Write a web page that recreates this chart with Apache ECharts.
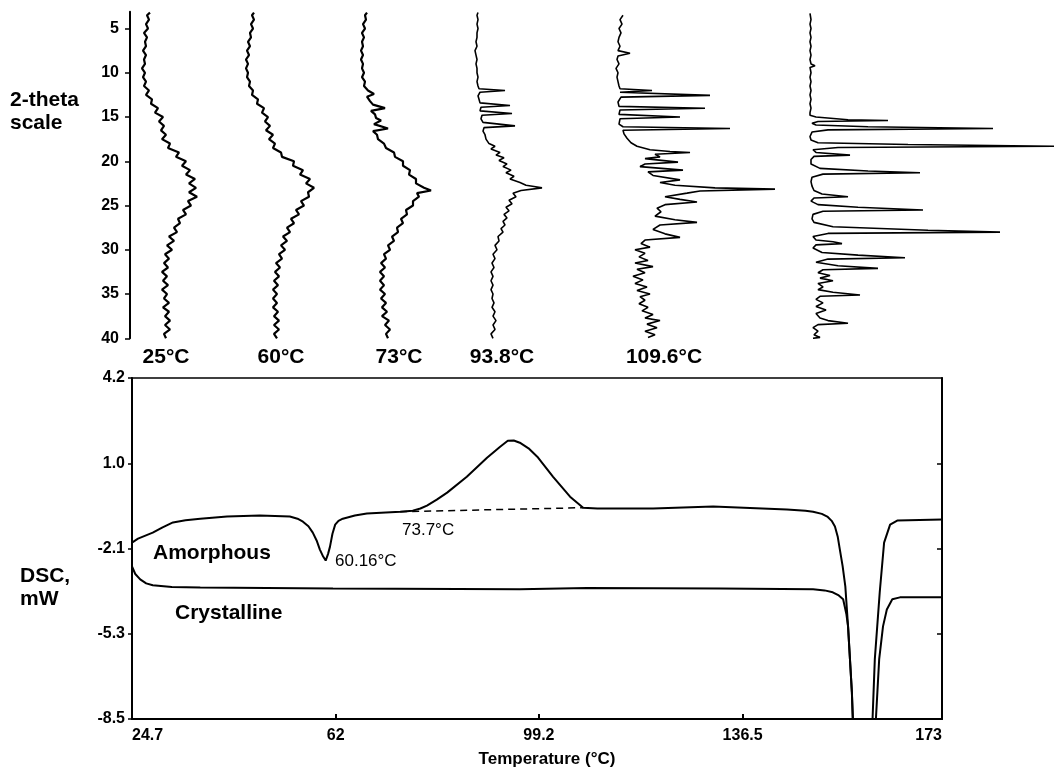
<!DOCTYPE html>
<html>
<head>
<meta charset="utf-8">
<script src="https://cdn.jsdelivr.net/npm/echarts@6/dist/echarts.min.js"></script>
<style>
  html, body { margin: 0; padding: 0; background: #fff; }
  #chart { width: 1054px; height: 769px; }
</style>
</head>
<body>
<div id="chart"></div>
<script>
// XRD patterns: [2-theta, intensity] (intensity in arbitrary units)
const xrd25 = [[3.2,7],[3.5,4],[4,6],[4.5,3],[5,5],[5.5,1],[6,4],[6.5,2],[7,3],[7.5,0],[8,3],[8.5,1],[9,2],[9.5,-1],[10,2],[10.5,0],[11,3],[11.5,1],[12,6],[12.5,3],[13,9],[13.5,8],[14,15],[14.5,12],[15,20],[15.5,16],[16,21],[16.5,18],[17,23],[17.5,19],[18,27],[18.5,25],[19,36],[19.5,33],[20,43],[20.5,39],[21,47],[21.5,43],[22,52],[22.5,46],[23,53],[23.5,46],[24,54],[24.5,45],[25,48],[25.5,40],[26,43],[26.5,35],[27,37],[27.5,31],[28,34],[28.5,26],[29,31],[29.5,24],[30,29],[30.5,22],[31,26],[31.5,21],[32,25],[32.5,19],[33,24],[33.5,20],[34,25],[34.5,19],[35,24],[35.5,21],[36,26],[36.5,20],[37,26],[37.5,22],[38,27],[38.5,22],[39,27],[39.5,21],[40,23]];
const xrd60 = [[3.2,8],[3.5,6],[4,8],[4.5,5],[5,7],[5.5,4],[6,5],[6.5,2],[7,4],[7.5,1],[8,3],[8.5,0],[9,2],[9.5,0],[10,2],[10.5,1],[11,4],[11.5,3],[12,7],[12.5,6],[13,12],[13.5,11],[14,18],[14.5,16],[15,22],[15.5,19],[16,24],[16.5,20],[17,27],[17.5,23],[18,29],[18.5,27],[19,35],[19.5,36],[20,48],[20.5,47],[21,57],[21.5,54],[22,64],[22.5,60],[23,68],[23.5,62],[24,63],[24.5,55],[25,58],[25.5,50],[26,53],[26.5,45],[27,48],[27.5,41],[28,44],[28.5,37],[29,41],[29.5,35],[30,39],[30.5,33],[31,36],[31.5,30],[32,34],[32.5,29],[33,33],[33.5,28],[34,32],[34.5,27],[35,31],[35.5,27],[36,31],[36.5,27],[37,32],[37.5,28],[38,33],[38.5,28],[39,33],[39.5,28],[40,31]];
const xrd73 = [[3.2,7],[3.5,5],[4,6],[4.5,3],[5,5],[5.5,2],[6,4],[6.5,2],[7,3],[7.5,1],[8,3],[8.5,1],[9,3],[9.5,2],[10,4],[10.5,2],[11,5],[11.5,4],[12,8],[12.4,14],[12.7,7],[13.2,10],[13.6,13],[14,25],[14.3,11],[14.7,15],[15.1,16],[15.4,21],[15.8,14],[16.3,28],[16.6,13],[17,17],[17.5,18],[18,24],[18.5,26],[19,34],[19.5,35],[20,43],[20.5,43],[21,50],[21.5,49],[22,56],[22.5,56],[23,64],[23.3,71],[23.6,57],[24,59],[24.5,53],[25,53],[25.5,46],[26,47],[26.5,41],[27,43],[27.5,37],[28,38],[28.5,32],[29,34],[29.5,28],[30,30],[30.5,24],[31,26],[31.5,21],[32,25],[32.5,20],[33,24],[33.5,20],[34,24],[34.5,20],[35,25],[35.5,21],[36,26],[36.5,22],[37,27],[37.5,22],[38,29],[38.5,25],[39,30],[39.5,26],[40,28]];
const xrd938 = [[3.2,2],[3.5,1],[4,2],[4.5,1],[5,2],[5.5,1],[6,1],[6.5,0],[7,1],[7.5,-1],[8,0],[8.5,1],[9,0],[9.5,1],[10,1],[10.5,2],[11,1],[11.5,2],[11.8,3],[12,29],[12.2,4],[12.6,2],[13,3],[13.4,4],[13.7,34],[13.9,5],[14.3,4],[14.6,36],[14.8,6],[15.2,5],[15.6,7],[16,39],[16.2,8],[16.6,7],[17,9],[17.5,10],[18,13],[18.3,19],[18.6,15],[19,24],[19.3,20],[19.6,28],[19.9,23],[20.3,31],[20.6,27],[21,35],[21.3,30],[21.7,38],[22,34],[22.4,44],[22.7,50],[23,66],[23.3,45],[23.6,37],[24,40],[24.4,33],[24.8,36],[25.2,30],[25.6,33],[26,28],[26.4,31],[26.8,27],[27.2,29],[27.6,25],[28,27],[28.5,22],[29,23],[29.5,19],[30,21],[30.5,17],[31,19],[31.5,16],[32,18],[32.5,15],[33,17],[33.5,15],[34,17],[34.5,15],[35,17],[35.5,16],[36,18],[36.5,16],[37,19],[37.5,17],[38,20],[38.5,17],[39,19],[39.5,15],[40,17]];
const xrd1096 = [[3.5,8],[4,5],[4.5,7],[5,4],[5.5,6],[6,4],[6.5,3],[7,5],[7.5,3],[7.8,15],[8.1,3],[8.5,2],[9,4],[9.5,1],[10,3],[10.5,2],[11,3],[11.5,4],[11.8,5],[12,37],[12.2,5],[12.4,4],[12.55,95],[12.75,6],[13.3,3],[13.8,4],[14,90],[14.2,5],[14.7,4],[15,65],[15.2,5],[15.8,4],[16.1,8],[16.3,115],[16.5,8],[16.9,9],[17.4,12],[17.9,16],[18.3,22],[18.7,35],[18.9,55],[19,75],[19.2,40],[19.5,45],[19.7,30],[20.1,63],[20.3,30],[20.6,25],[21,68],[21.2,33],[21.6,38],[22.1,65],[22.4,45],[22.7,60],[23,100],[23.15,160],[23.35,85],[23.6,72],[24,50],[24.3,65],[24.6,82],[24.9,50],[25.3,42],[25.7,46],[26.2,40],[26.6,60],[26.9,82],[27.2,45],[27.7,38],[28.2,50],[28.6,65],[28.9,30],[29.3,26],[29.7,35],[30,20],[30.4,30],[30.8,24],[31.2,33],[31.5,20],[31.9,38],[32.2,22],[32.6,30],[33,18],[33.4,28],[33.8,20],[34.2,32],[34.6,22],[35,35],[35.3,25],[35.7,30],[36.1,24],[36.5,33],[36.9,27],[37.3,38],[37.7,30],[38,45],[38.4,32],[38.8,42],[39.2,30],[39.6,40],[39.9,33]];
const xrdCryst = [[3.3,2],[3.5,2],[4,3],[4.5,2],[5,3],[5.5,2],[6,3],[6.5,2],[7,3],[7.5,2],[8,3],[8.5,2],[9,3],[9.2,7],[9.4,2],[10,3],[10.5,2],[11,3],[11.5,2],[12,3],[12.5,2],[13,3],[13.5,2],[14,3],[14.5,2],[14.8,2],[15,8],[15.3,40],[15.4,80],[15.5,10],[15.7,4],[15.9,8],[16.1,60],[16.3,185],[16.45,20],[16.7,4],[17.2,2],[17.6,3],[17.9,10],[18.1,100],[18.3,246],[18.45,30],[18.7,5],[19,8],[19.3,42],[19.45,6],[19.8,3],[20.3,3],[20.8,12],[21.1,60],[21.3,112],[21.45,15],[21.8,4],[22.3,3],[22.8,4],[23.3,6],[23.7,14],[24,40],[24.15,6],[24.5,3],[24.9,10],[25.2,50],[25.5,115],[25.65,15],[26,5],[26.5,4],[26.9,6],[27.4,25],[27.8,120],[28,192],[28.15,20],[28.5,5],[28.9,8],[29.1,25],[29.3,34],[29.45,8],[29.8,5],[30.3,14],[30.6,50],[30.9,97],[31.05,20],[31.4,8],[31.8,30],[32.1,70],[32.25,15],[32.6,10],[32.9,22],[33.2,12],[33.5,25],[33.8,10],[34.2,15],[34.5,10],[34.8,25],[35.1,52],[35.25,12],[35.6,8],[36,15],[36.4,8],[36.8,18],[37.2,8],[37.7,12],[38,20],[38.3,40],[38.45,10],[38.8,5],[39.2,10],[39.6,6],[39.9,12],[40,5]];
const xrdLabels = ['25°C', '60°C', '73°C', '93.8°C', '109.6°C', ''];
const twoThetaTicks = [5, 10, 15, 20, 25, 30, 35, 40];

// DSC curves: [temperature °C, heat flow mW]
const dscAmorphous = [[24.7,-1.93],[25.8,-1.78],[28.5,-1.56],[30.3,-1.36],[32.2,-1.18],[34.5,-1.1],[37.2,-1.04],[42.1,-0.96],[48.1,-0.92],[53.6,-0.96],[55,-1.04],[56,-1.15],[57,-1.32],[57.8,-1.56],[58.5,-1.85],[59.1,-2.19],[59.7,-2.45],[60.16,-2.6],[60.6,-2.35],[60.95,-2.08],[61.4,-1.6],[61.9,-1.26],[62.5,-1.12],[63.3,-1.04],[65.5,-0.92],[67.7,-0.85],[73.8,-0.78],[76.1,-0.74],[77.5,-0.66],[78.7,-0.55],[80.5,-0.33],[82.4,-0.07],[86,0.52],[89.7,1.23],[92.1,1.64],[93.5,1.86],[94.6,1.87],[95.7,1.79],[97.3,1.58],[98.9,1.27],[101.8,0.52],[104.9,-0.22],[107.3,-0.63],[109.9,-0.66],[120.1,-0.66],[131.1,-0.59],[144.6,-0.7],[148,-0.74],[149.4,-0.78],[151,-0.86],[152,-0.96],[152.8,-1.12],[153.4,-1.33],[153.9,-1.7],[154.3,-2.19],[154.8,-2.8],[155.3,-3.56],[155.8,-5.05],[156.5,-7.5],[156.9,-9.5],[158.5,-14],[160.1,-9.5],[160.7,-6.27],[161.6,-3.78],[162.4,-1.93],[163.5,-1.26],[164.8,-1.11],[173,-1.07]];
const dscCrystalline = [[24.7,-2.82],[25.3,-3.1],[26.2,-3.3],[27.3,-3.45],[28.5,-3.52],[32,-3.58],[37.2,-3.6],[61.5,-3.64],[95.7,-3.67],[108,-3.62],[132.4,-3.64],[149.4,-3.67],[151.5,-3.71],[153,-3.78],[154.1,-3.9],[154.9,-4.04],[155.5,-4.6],[155.8,-5.05],[156.5,-7.5],[156.8,-9.5],[158.7,-14],[160.6,-9.5],[160.9,-8.5],[161.5,-6.27],[162.2,-5.05],[162.9,-4.42],[163.9,-4.04],[165.3,-3.97],[173,-3.97]];
const dscBaseline = [[73.8,-0.78],[107.3,-0.63]];
const tempTicks = [24.7, 62, 99.2, 136.5, 173];
const dscTickValues = [-8.5, -5.325, -2.15, 1.025, 4.2];
const dscTickLabels = ['-8.5', '-5.3', '-2.1', '1.0', '4.2'];

// layout
const xrdOffsets = [13, 116, 230, 346, 485, 678];
const xrdLabelX = [166, 281, 399, 502, 664, 0];
const FONT = '"Liberation Sans", Arial, sans-serif';

const chart = echarts.init(document.getElementById('chart'));

const series = [];
[xrd25, xrd60, xrd73, xrd938, xrd1096, xrdCryst].forEach((trace, i) => {
  series.push({
    type: 'line',
    xAxisIndex: 0,
    yAxisIndex: 0,
    data: trace.map(p => [xrdOffsets[i] + p[1], p[0]]),
    showSymbol: false,
    lineStyle: { color: '#000', width: i < 3 ? 2.2 : 1.6 },
    silent: true
  });
});
[dscAmorphous, dscCrystalline].forEach(curve => {
  series.push({
    type: 'line',
    xAxisIndex: 1,
    yAxisIndex: 1,
    data: curve,
    showSymbol: false,
    lineStyle: { color: '#000', width: 2 },
    silent: true
  });
});
series.push({
  type: 'line',
  xAxisIndex: 1,
  yAxisIndex: 1,
  data: dscBaseline,
  showSymbol: false,
  lineStyle: { color: '#000', width: 1.5, type: [7, 5] },
  silent: true
});

const texts = [];
xrdLabels.forEach((t, i) => {
  if (!t) return;
  texts.push({ type: 'text', style: { text: t, x: xrdLabelX[i], y: 357, font: 'bold 21px ' + FONT, fill: '#000', textAlign: 'center', textVerticalAlign: 'middle' } });
});
texts.push(
  { type: 'text', style: { text: '2-theta\nscale', x: 10, y: 89, font: 'bold 21px ' + FONT, lineHeight: 23, fill: '#000' } },
  { type: 'text', style: { text: 'DSC,\nmW', x: 20, y: 565, font: 'bold 21px ' + FONT, lineHeight: 23, fill: '#000' } },
  { type: 'text', style: { text: 'Amorphous', x: 153, y: 553, font: 'bold 21px ' + FONT, fill: '#000', textVerticalAlign: 'middle' } },
  { type: 'text', style: { text: 'Crystalline', x: 175, y: 613, font: 'bold 21px ' + FONT, fill: '#000', textVerticalAlign: 'middle' } },
  { type: 'text', style: { text: '60.16°C', x: 335, y: 561, font: '17px ' + FONT, fill: '#000', textVerticalAlign: 'middle' } },
  { type: 'text', style: { text: '73.7°C', x: 402, y: 530, font: '17px ' + FONT, fill: '#000', textVerticalAlign: 'middle' } }
);

const option = {
  animation: false,
  backgroundColor: '#fff',
  grid: [
    { left: 130, top: 11.7, width: 924, height: 326.6, show: false },
    { left: 132, top: 378, width: 810, height: 342, show: true, borderColor: '#000', borderWidth: 1.5 }
  ],
  xAxis: [
    { gridIndex: 0, type: 'value', min: 0, max: 924, show: false },
    {
      gridIndex: 1, type: 'value', min: 24.7, max: 173,
      axisLine: { onZero: false, lineStyle: { color: '#000', width: 2 } },
      axisTick: { inside: true, length: 5, customValues: tempTicks.slice(1, -1), lineStyle: { color: '#000', width: 2 } },
      axisLabel: {
        customValues: tempTicks, margin: 9, color: '#000', fontFamily: FONT, fontWeight: 'bold', fontSize: 16,
        alignMinLabel: 'left', alignMaxLabel: 'right',
        formatter: v => String(v)
      },
      splitLine: { show: false },
      name: 'Temperature (°C)', nameLocation: 'middle', nameGap: 32,
      nameTextStyle: { color: '#000', fontFamily: FONT, fontWeight: 'bold', fontSize: 17, padding: [0, 0, 0, 20] }
    }
  ],
  yAxis: [
    {
      gridIndex: 0, type: 'value', inverse: true, min: 3.1, max: 40,
      axisLine: { show: true, onZero: false, lineStyle: { color: '#000', width: 2 } },
      axisTick: { show: true, length: 5, customValues: twoThetaTicks, lineStyle: { color: '#000', width: 1.5 } },
      axisLabel: { customValues: twoThetaTicks, margin: 11, color: '#000', fontFamily: FONT, fontWeight: 'bold', fontSize: 16 },
      splitLine: { show: false }
    },
    {
      gridIndex: 1, type: 'value', min: -8.5, max: 4.2,
      axisLine: { show: true, onZero: false, lineStyle: { color: '#000', width: 2 } },
      axisTick: { show: true, length: 4, customValues: dscTickValues, lineStyle: { color: '#000', width: 1.5 } },
      axisLabel: {
        customValues: dscTickValues, margin: 7, color: '#000', fontFamily: FONT, fontWeight: 'bold', fontSize: 16,
        formatter: v => {
          let best = 0;
          dscTickValues.forEach((t, i) => { if (Math.abs(t - v) < Math.abs(dscTickValues[best] - v)) best = i; });
          return dscTickLabels[best];
        }
      },
      splitLine: { show: false }
    },
    {
      gridIndex: 1, type: 'value', min: -8.5, max: 4.2, position: 'right',
      axisLine: { show: true, onZero: false, lineStyle: { color: '#000', width: 2 } },
      axisTick: { show: true, inside: true, length: 5, customValues: dscTickValues.slice(1, -1), lineStyle: { color: '#000', width: 1.5 } },
      axisLabel: { show: false },
      splitLine: { show: false }
    }
  ],
  graphic: texts,
  series: series
};

chart.setOption(option);
</script>
</body>
</html>
